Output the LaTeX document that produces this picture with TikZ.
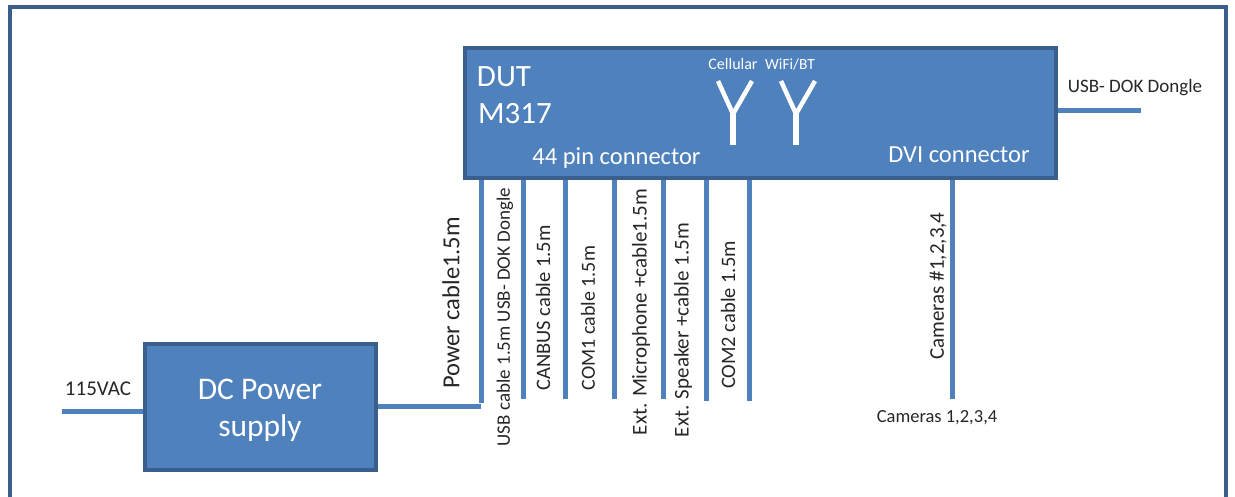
\documentclass[tikz,border=0pt]{standalone}
\usepackage{fontspec}
\setmainfont{Carlito}
\definecolor{boxfill}{HTML}{4F81BD}
\definecolor{boxedge}{HTML}{3A5F8E}
\tikzset{
	box/.style={draw=boxedge, line width=4pt, fill=boxfill, inner sep=0pt},
	cable/.style={draw=boxfill, line width=5pt},
	whitetxt/.style={text=white, inner sep=0pt, align=center},
	darktxt/.style={text=black!85, inner sep=0pt},
	sidetxt/.style={text=black!85, inner sep=0pt, rotate=90},
	aerial/.style={draw=white, line width=4.5pt},
	aerialstem/.style={draw=white, line width=6pt}
}
\begin{document}
\begin{tikzpicture}[x=1pt,y=-1pt]
	\useasboundingbox (0,0) rectangle (1235,497);
	\draw[draw=boxedge, line width=4pt] (10,497)--(10,7)--(1226,7)--(1226,497);

	\node[box, minimum width=591pt, minimum height=130pt] (DUT) at (760.5,113) {};
	\node[box, minimum width=231pt, minimum height=126pt] (PSU) at (260,407) {};

	\node[whitetxt, font=\fontsize{31}{33}\selectfont] (DUTname) at (504,77) {DUT};
	\node[whitetxt, font=\fontsize{31}{33}\selectfont] (M317) at (515,114) {M317};
	\node[whitetxt, font=\fontsize{24.5}{26}\selectfont] (PIN44) at (616.5,158) {44 pin connector};
	\node[whitetxt, font=\fontsize{24.5}{26}\selectfont] (DVI) at (959,155) {DVI connector};
	\node[whitetxt, font=\fontsize{16}{18}\selectfont] (CELL) at (733,64) {Cellular};
	\node[whitetxt, font=\fontsize{15.5}{17}\selectfont] (WIFI) at (790,64) {WiFi/BT};
	\node[whitetxt, font=\fontsize{31.5}{33}\selectfont] (DCP) at (260,389) {DC Power};
	\node[whitetxt, font=\fontsize{31.5}{33}\selectfont] (SUP) at (260,428) {supply};

	% antennas
	\coordinate (ant1) at (733,145);
	\coordinate (ant1j) at (733,114);
	\coordinate (ant2) at (796,145);
	\coordinate (ant2j) at (796,114);
	\draw[aerialstem] (ant1)--(ant1j);
	\draw[aerial] (718,81)--(ant1j)--(752,81);
	\draw[aerialstem] (ant2)--(ant2j);
	\draw[aerial] (781,81)--(ant2j)--(815,81);

	% power side
	\coordinate (acin) at (62,411);
	\coordinate (powcorner) at (481,406);
	\draw[cable] (acin)--(PSU.west |- acin);
	\draw[cable] (PSU.east |- powcorner)--(powcorner);
	\draw[cable] (powcorner |- DUT.south)--(481,403);

	\coordinate (usbend) at (523,399);
	\coordinate (canend) at (565,399);
	\coordinate (comoneend) at (614,399);
	\coordinate (micend) at (663,399);
	\coordinate (spkend) at (706,401);
	\coordinate (comtwoend) at (749,401);
	\coordinate (camend) at (952,399);
	\coordinate (dokend) at (1141,111);

	\draw[cable] (usbend |- DUT.south)--(usbend);
	\draw[cable] (canend |- DUT.south)--(canend);
	\draw[cable] (comoneend |- DUT.south)--(comoneend);
	\draw[cable] (micend |- DUT.south)--(micend);
	\draw[cable] (spkend |- DUT.south)--(spkend);
	\draw[cable] (comtwoend |- DUT.south)--(comtwoend);
	\draw[cable] (camend |- DUT.south)--(camend);
	\draw[cable] (DUT.east |- dokend)--(dokend);

	\node[darktxt, font=\fontsize{21}{23}\selectfont] (AC) at (98,389) {115VAC};
	\node[darktxt, font=\fontsize{19}{21}\selectfont] (DOK) at (1135,88) {USB- DOK Dongle};
	\node[darktxt, font=\fontsize{18.5}{20}\selectfont] (CAMS) at (937,418) {Cameras 1,2,3,4};

	\node[sidetxt, font=\fontsize{24.5}{26}\selectfont] (POWtxt) at (451,303) {Power cable1.5m};
	\node[sidetxt, font=\fontsize{19}{21}\selectfont] (USBtxt) at (505,317) {USB cable 1.5m USB- DOK Dongle};
	\node[sidetxt, font=\fontsize{20.5}{22}\selectfont] (CANtxt) at (543,308) {CANBUS cable 1.5m};
	\node[sidetxt, font=\fontsize{20}{22}\selectfont] (COMonetxt) at (588,318) {COM1 cable 1.5m};
	\node[sidetxt, font=\fontsize{21}{23}\selectfont] (MICtxt) at (641,312) {Ext. Microphone +cable1.5m};
	\node[sidetxt, font=\fontsize{21}{23}\selectfont] (SPKtxt) at (683,330) {Ext. Speaker +cable 1.5m};
	\node[sidetxt, font=\fontsize{20.5}{22}\selectfont] (COMtwotxt) at (728,315) {COM2 cable 1.5m};
	\node[sidetxt, font=\fontsize{21}{23}\selectfont] (CAMtxt) at (938,286) {Cameras \#1,2,3,4};
\end{tikzpicture}
\end{document}
